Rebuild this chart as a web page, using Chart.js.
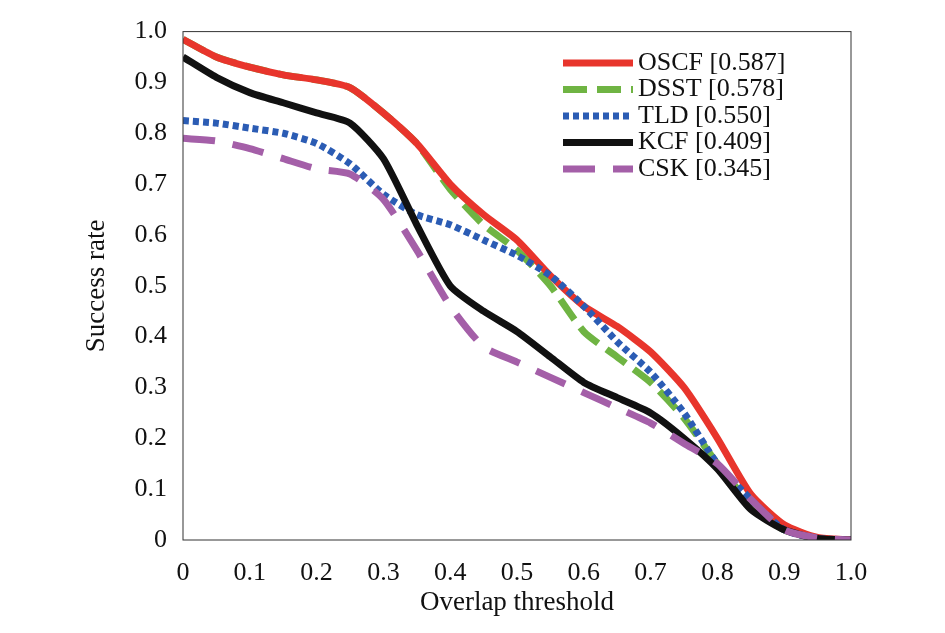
<!DOCTYPE html>
<html>
<head>
<meta charset="utf-8">
<script src="https://cdn.jsdelivr.net/npm/chart.js@4/dist/chart.umd.min.js"></script>
<style>
  html, body { margin: 0; padding: 0; background: #fff; }
  #wrap { width: 945px; height: 633px; }
</style>
</head>
<body>
<div id="wrap"><canvas id="chart"></canvas></div>
<script>
// Overlap thresholds and success rates
const thresholds = [0, 0.05, 0.1, 0.15, 0.2, 0.25, 0.3, 0.35, 0.4, 0.45, 0.5, 0.55, 0.6, 0.65, 0.7, 0.75, 0.8, 0.85, 0.9, 0.95, 1.0];
const oscf = [0.985, 0.95, 0.93, 0.915, 0.905, 0.89, 0.84, 0.78, 0.70, 0.64, 0.59, 0.52, 0.46, 0.42, 0.37, 0.30, 0.20, 0.09, 0.03, 0.005, 0];
const dsst = [0.985, 0.95, 0.93, 0.915, 0.905, 0.89, 0.84, 0.78, 0.69, 0.62, 0.57, 0.50, 0.41, 0.36, 0.31, 0.24, 0.15, 0.07, 0.02, 0.003, 0];
const tld  = [0.825, 0.82, 0.81, 0.80, 0.78, 0.74, 0.68, 0.64, 0.62, 0.59, 0.56, 0.52, 0.46, 0.39, 0.33, 0.25, 0.15, 0.08, 0.02, 0.003, 0];
const kcf  = [0.95, 0.91, 0.88, 0.86, 0.84, 0.82, 0.75, 0.62, 0.50, 0.45, 0.41, 0.36, 0.31, 0.28, 0.25, 0.20, 0.14, 0.06, 0.02, 0.003, 0];
const csk  = [0.79, 0.785, 0.77, 0.75, 0.73, 0.72, 0.67, 0.57, 0.46, 0.38, 0.35, 0.32, 0.29, 0.26, 0.23, 0.19, 0.15, 0.08, 0.02, 0.004, 0];
const seriesLabels = ['OSCF [0.587]', 'DSST [0.578]', 'TLD [0.550]', 'KCF [0.409]', 'CSK [0.345]'];

const FONT = "'Liberation Serif', 'DejaVu Serif', serif";

function pts(vals) {
  return thresholds.map((x, i) => ({ x: x, y: vals[i] }));
}

const styles = [
  { color: '#e8352c', dash: [] },
  { color: '#6fb443', dash: [24, 10] },
  { color: '#2b5cb4', dash: [6, 4] },
  { color: '#111111', dash: [] },
  { color: '#a45fa8', dash: [32, 18] },
];

const series = [oscf, dsst, tld, kcf, csk];
// draw order: back to front like the reference (CSK bottom, OSCF under DSST)
const order = [4, 3, 2, 0, 1];

const datasets = order.map((i) => ({
  label: seriesLabels[i],
  data: pts(series[i]),
  borderColor: styles[i].color,
  borderDash: styles[i].dash,
  borderWidth: 7,
  pointRadius: 0,
  tension: 0.2,
  fill: false,
}));

/* ── Frame, axis titles and legend ── */
const framePlugin = {
  id: 'frame',
  afterDraw(chart) {
    const { ctx, chartArea: a } = chart;
    ctx.save();
    ctx.strokeStyle = '#333';
    ctx.lineWidth = 1;
    ctx.strokeRect(a.left, a.top, a.right - a.left, a.bottom - a.top);

    // axis titles
    ctx.fillStyle = '#111';
    ctx.font = '27px ' + FONT;
    ctx.textAlign = 'center';
    ctx.textBaseline = 'middle';
    ctx.fillText('Overlap threshold', (a.left + a.right) / 2, 603);
    ctx.save();
    ctx.translate(97, (a.top + a.bottom) / 2);
    ctx.rotate(-Math.PI / 2);
    ctx.fillText('Success rate', 0, 0);
    ctx.restore();

    // legend inside the plot
    ctx.font = '26px ' + FONT;
    ctx.textAlign = 'left';
    seriesLabels.forEach((label, i) => {
      const y = 63 + i * 26.5;
      ctx.strokeStyle = styles[i].color;
      ctx.setLineDash(styles[i].dash);
      ctx.lineWidth = 7;
      ctx.beginPath();
      ctx.moveTo(563, y);
      ctx.lineTo(633, y);
      ctx.stroke();
      ctx.fillStyle = '#111';
      ctx.fillText(label, 638, y);
    });
    ctx.restore();
  },
};

new Chart(document.getElementById('chart'), {
  type: 'line',
  data: { datasets: datasets },
  options: {
    responsive: true,
    maintainAspectRatio: false,
    animation: false,
    layout: { padding: { top: 18, right: 94, left: 0, bottom: 0 } },
    plugins: { legend: { display: false }, tooltip: { enabled: false } },
    scales: {
      x: {
        type: 'linear',
        min: 0,
        max: 1,
        grid: { display: false, drawTicks: false },
        border: { display: false },
        ticks: {
          stepSize: 0.1,
          padding: 18,
          color: '#111',
          font: { family: FONT, size: 26 },
          callback: (v) => (v === 0 ? '0' : v.toFixed(1)),
        },
        afterFit: (s) => { s.height = 93; },
      },
      y: {
        min: 0,
        max: 1,
        grid: { display: false, drawTicks: false },
        border: { display: false },
        ticks: {
          stepSize: 0.1,
          padding: 16,
          color: '#111',
          font: { family: FONT, size: 26 },
          callback: (v) => (v === 0 ? '0' : v.toFixed(1)),
        },
        afterFit: (s) => { s.width = 183; },
      },
    },
  },
  plugins: [framePlugin],
});
</script>
</body>
</html>
